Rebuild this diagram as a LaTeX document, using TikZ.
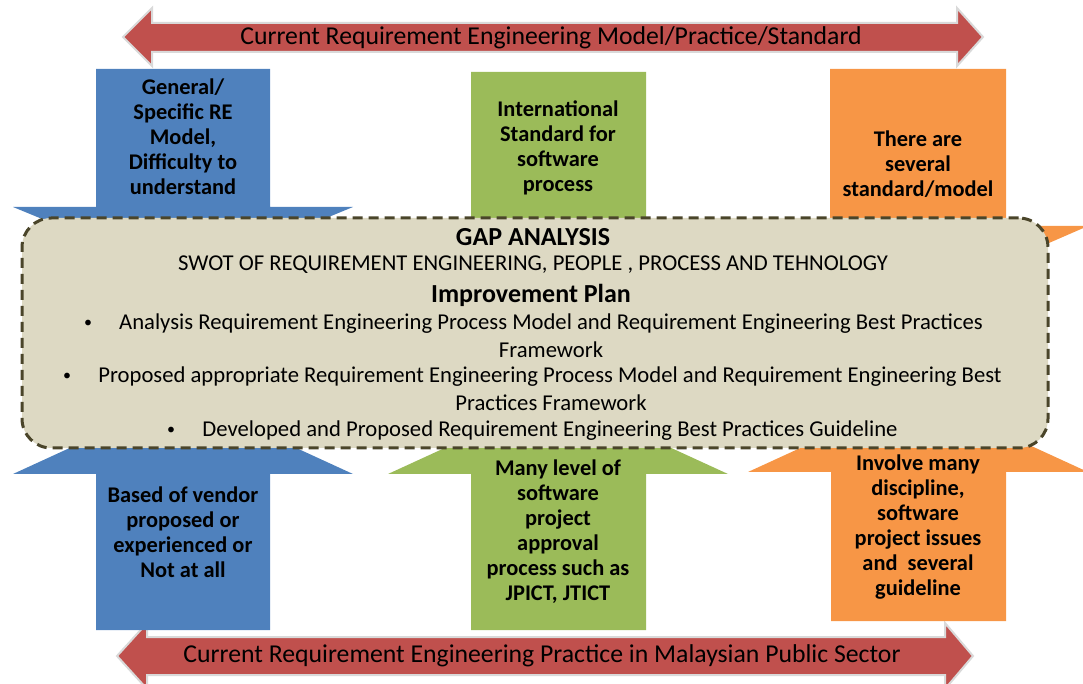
\documentclass[tikz,border=0pt]{standalone}
\usepackage{fontspec}
\setmainfont{Carlito}
\usetikzlibrary{positioning}

\definecolor{reBlue}{HTML}{4F81BD}
\definecolor{reGreen}{HTML}{9BBB59}
\definecolor{reOrange}{HTML}{F79646}
\definecolor{reRed}{HTML}{C0504D}
\definecolor{gapFill}{HTML}{DDD9C3}
\definecolor{gapLine}{HTML}{4A452A}

\tikzset{
  redarrow/.style={fill=reRed, draw=black!15, line width=1.5pt, line join=miter},
  arrowtext/.style={font=\fontsize{16.8}{18.75}\selectfont\bfseries, align=center, inner sep=0pt},
  bandtext/.style={font=\fontsize{19.3}{22}\selectfont, inner sep=0pt},
  gapbox/.style={rectangle, rounded corners=22pt, fill=gapFill, draw=gapLine,
    line width=2.25pt, dash pattern=on 7.5pt off 4.5pt},
  gaptext/.style={font=\fontsize{17}{20}\selectfont, inner sep=0pt},
  gapdot/.style={font=\fontsize{12}{14}\selectfont, inner sep=0pt},
  gaphead/.style={font=\fontsize{19.5}{22}\selectfont\bfseries, inner sep=0pt}
}

\begin{document}
\begin{tikzpicture}[x=0.75pt, y=-0.75pt]
\useasboundingbox (0,0) rectangle (1083,684);

% top band
\filldraw[redarrow] (123,37) -- (152,8) -- (152,23) -- (957,23) -- (957,8) -- (983,37)
  -- (957,66) -- (957,52) -- (152,52) -- (152,66) -- cycle;
\node[bandtext] (topband) at (551,38) {Current Requirement Engineering Model/Practice/Standard};

% bottom band
\filldraw[redarrow] (117,656) -- (147,623) -- (147,637) -- (945,637) -- (945,623) -- (973,656)
  -- (945,689) -- (945,675) -- (147,675) -- (147,689) -- cycle;
\node[bandtext] (botband) at (542,656) {Current Requirement Engineering Practice in Malaysian Public Sector};

% arrows pointing down
\fill[reBlue] (96,69) -- (270,69) -- (270,207) -- (353,207) -- (183,277) -- (13,207) -- (96,207) -- cycle;
\fill[reGreen] (471,72) -- (646,72) -- (646,232) -- (728,232) -- (558,300) -- (388,232) -- (471,232) -- cycle;
\fill[reOrange] (830,69) -- (1006,69) -- (1006,226) -- (1088,226) -- (918,300) -- (748,226) -- (830,226) -- cycle;

% arrows pointing up
\fill[reBlue] (96,630) -- (270,630) -- (270,474) -- (353,474) -- (183,396) -- (13,474) -- (96,474) -- cycle;
\fill[reGreen] (471,630) -- (646,630) -- (646,474) -- (728,474) -- (558,396) -- (388,474) -- (471,474) -- cycle;
\fill[reOrange] (831,621) -- (1006,621) -- (1006,472) -- (1088,472) -- (918,394) -- (748,472) -- (831,472) -- cycle;

\node[arrowtext] (model) at (183,136.5) {General/\\Specific RE\\Model,\\Difficulty to\\understand};
\node[arrowtext] (intl) at (558,147.5) {International\\Standard for\\software\\process};
\node[arrowtext] (several) at (918,164.5) {There are\\several\\standard/model};
\node[arrowtext] (vendor) at (183,532.5) {Based of vendor\\proposed or\\experienced or\\Not at all};
\node[arrowtext] (approval) at (558,532) {Many level of\\software\\project\\approval\\process such as\\JPICT, JTICT};
\node[arrowtext] (discipline) at (918,527) {Involve many\\discipline,\\software\\project issues\\and~ several\\guideline};

% gap analysis box
\node[gapbox, minimum width=769.5pt, minimum height=172.5pt] (gap) at (535,333) {};
\node[gaphead] (gaptitle) at (533,237) {GAP ANALYSIS};
\node[gaptext] (swot) at (533,265) {SWOT OF REQUIREMENT ENGINEERING, PEOPLE , PROCESS AND TEHNOLOGY};
\node[gaphead] (plan) at (531,295) {Improvement Plan};
\node[gapdot] (bulA) at (88,324) {•};
\node[gaptext] (lineA) at (551,324) {Analysis Requirement Engineering Process Model and Requirement Engineering Best Practices};
\node[gaptext] (lineAb) at (551,350) {Framework};
\node[gapdot] (bulB) at (67,377) {•};
\node[gaptext] (lineB) at (550,377) {Proposed appropriate Requirement Engineering Process Model and Requirement Engineering Best};
\node[gaptext] (lineBb) at (551,403) {Practices Framework};
\node[gapdot] (bulC) at (171,431) {•};
\node[gaptext] (lineC) at (550,431) {Developed and Proposed Requirement Engineering Best Practices Guideline};
\end{tikzpicture}
\end{document}
